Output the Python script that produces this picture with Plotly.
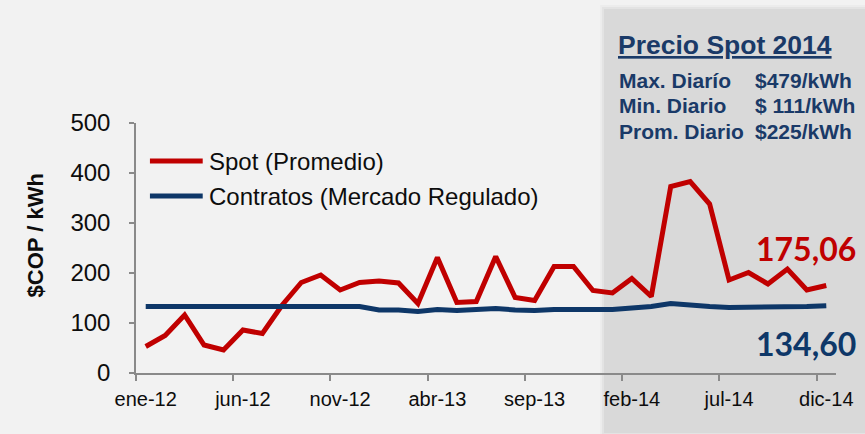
import plotly.graph_objects as go

# Periodos mensuales ene-12 .. dic-14
meses = ["ene", "feb", "mar", "abr", "may", "jun", "jul", "ago", "sep", "oct", "nov", "dic"]
anios = ["12", "13", "14"]
periodos = [f"{m}-{a}" for a in anios for m in meses]

# Precio promedio mensual en bolsa ($COP/kWh)
spot = [53, 75, 116, 56, 46, 86, 79, 135, 181, 196, 166, 181,
        184, 180, 139, 231, 141, 143, 233, 151, 145, 213, 213, 165,
        160, 189, 153, 373, 383, 338, 186, 201, 178, 208, 166, 175.06]

# Precio de contratos del mercado regulado ($COP/kWh)
contratos = [133, 133, 133, 132, 132, 132, 132, 132, 132, 133, 133, 133,
             126, 126, 123, 127, 125, 126, 129, 126, 125, 127, 127, 127,
             127, 130, 133, 139, 135, 133, 131, 131, 132, 133, 133, 134.60]

etiquetas_x = periodos[::5]
ticks_y = [0, 100, 200, 300, 400, 500]

nombres_series = ["Spot (Promedio)", "Contratos (Mercado Regulado)"]

resumen_titulo = "Precio Spot 2014"
resumen_nombres = ["Max. Diarío", "Min. Diario", "Prom. Diario"]
resumen_valores = ["$479/kWh", "$ 111/kWh", "$225/kWh"]

ROJO = "#C00000"
AZUL = "#0E3768"
AZUL_TXT = "#1A3A68"
GRIS_EJE = "#8A8A8A"
FONDO = "#F2F2F2"
CAJA = "#D9D9D9"

W, H = 865, 434
M = dict(l=136, r=26, t=123, b=61)


def px_x(px):
    return (px - M["l"]) / (W - M["l"] - M["r"])


def px_y(py):
    return (H - M["b"] - py) / (H - M["t"] - M["b"])


def fmt(v):
    return f"{v:.2f}".replace(".", ",")


idx = list(range(len(periodos)))

fig = go.Figure()
fig.add_trace(go.Scatter(x=idx, y=spot, customdata=periodos, mode="lines",
                         name=nombres_series[0],
                         line=dict(color=ROJO, width=5),
                         hovertemplate="%{customdata}: %{y}<extra></extra>"))
fig.add_trace(go.Scatter(x=idx, y=contratos, customdata=periodos, mode="lines",
                         name=nombres_series[1],
                         line=dict(color=AZUL, width=5),
                         hovertemplate="%{customdata}: %{y}<extra></extra>"))

shapes = []
# recuadro 2014 con sombra suave
for off, col in [(4, "rgba(0,0,0,0.025)"), (2, "rgba(0,0,0,0.035)")]:
    shapes.append(dict(type="rect", xref="paper", yref="paper", layer="below",
                       x0=px_x(606 - off), x1=px_x(880), y0=px_y(433 + off), y1=px_y(9 - off),
                       fillcolor=col, line=dict(width=0)))
shapes.append(dict(type="rect", xref="paper", yref="paper", layer="below",
                   x0=px_x(606), x1=px_x(880), y0=px_y(433), y1=px_y(9),
                   fillcolor=CAJA, line=dict(width=0)))

annotations = []
# leyenda
for nombre, col, py in [(nombres_series[0], ROJO, 161), (nombres_series[1], AZUL, 196)]:
    shapes.append(dict(type="line", xref="paper", yref="paper",
                       x0=px_x(150), x1=px_x(203), y0=px_y(py), y1=px_y(py),
                       line=dict(color=col, width=5)))
    annotations.append(dict(xref="paper", yref="paper", x=px_x(207), y=px_y(py),
                            xanchor="left", yanchor="middle", showarrow=False,
                            text=nombre, font=dict(size=24, color="#0D0D0D")))

# resumen 2014
annotations.append(dict(xref="paper", yref="paper", x=px_x(618), y=px_y(45),
                        xanchor="left", yanchor="middle", showarrow=False,
                        text=f"<b><u>{resumen_titulo}</u></b>",
                        font=dict(size=26.5, color=AZUL_TXT, family="Arial, Liberation Sans")))
for i, (n, v) in enumerate(zip(resumen_nombres, resumen_valores)):
    py = 80 + 25.5 * i
    annotations.append(dict(xref="paper", yref="paper", x=px_x(619), y=px_y(py),
                            xanchor="left", yanchor="middle", showarrow=False,
                            text=f"<b>{n}</b>", font=dict(size=21, color=AZUL_TXT)))
    annotations.append(dict(xref="paper", yref="paper", x=px_x(756), y=px_y(py),
                            xanchor="left", yanchor="middle", showarrow=False,
                            text=f"<b>{v}</b>", font=dict(size=21, color=AZUL_TXT)))

# valores finales de cada serie
annotations.append(dict(xref="x", yref="y", x=idx[-1], y=spot[-1],
                        xanchor="right", yanchor="middle", xshift=32, yshift=37,
                        showarrow=False, text=f"<b>{fmt(spot[-1])}</b>",
                        font=dict(size=32, color=ROJO, family="Lato")))
annotations.append(dict(xref="x", yref="y", x=idx[-1], y=contratos[-1],
                        xanchor="right", yanchor="middle", xshift=32, yshift=-38,
                        showarrow=False, text=f"<b>{fmt(contratos[-1])}</b>",
                        font=dict(size=32, color=AZUL, family="Lato")))

# título del eje y
annotations.append(dict(xref="paper", yref="paper", x=px_x(35), y=px_y(235),
                        xanchor="center", yanchor="middle", showarrow=False,
                        textangle=-90, text="<b>$COP / kWh</b>",
                        font=dict(size=22, color="#0D0D0D")))

fig.update_layout(
    width=W, height=H,
    margin=dict(l=M["l"], r=M["r"], t=M["t"], b=M["b"], pad=0),
    paper_bgcolor=FONDO, plot_bgcolor="rgba(0,0,0,0)",
    font=dict(family="Arial, Liberation Sans", color="#0D0D0D"),
    showlegend=False,
    shapes=shapes, annotations=annotations,
    xaxis=dict(range=[-0.5, len(periodos) - 0.5], tickmode="array",
               tickvals=idx[::5], ticktext=etiquetas_x, ticks="",
               tickfont=dict(size=20), ticklabelstandoff=7,
               showline=True, linecolor=GRIS_EJE, linewidth=1.5,
               showgrid=False, zeroline=False, fixedrange=True,
               minor=dict(tickmode="array",
                          tickvals=[i - 0.5 for i in idx[::5]],
                          ticks="outside", ticklen=6, tickwidth=1.5,
                          tickcolor=GRIS_EJE, showgrid=False)),
    yaxis=dict(range=[0, 500], tickmode="array", tickvals=ticks_y,
               ticks="outside", ticklen=5, tickwidth=1.5, tickcolor=GRIS_EJE,
               tickfont=dict(size=24), ticklabelstandoff=14,
               showline=True, linecolor=GRIS_EJE, linewidth=1.5,
               showgrid=False, zeroline=False, fixedrange=True),
)

fig.write_html("out.html")
